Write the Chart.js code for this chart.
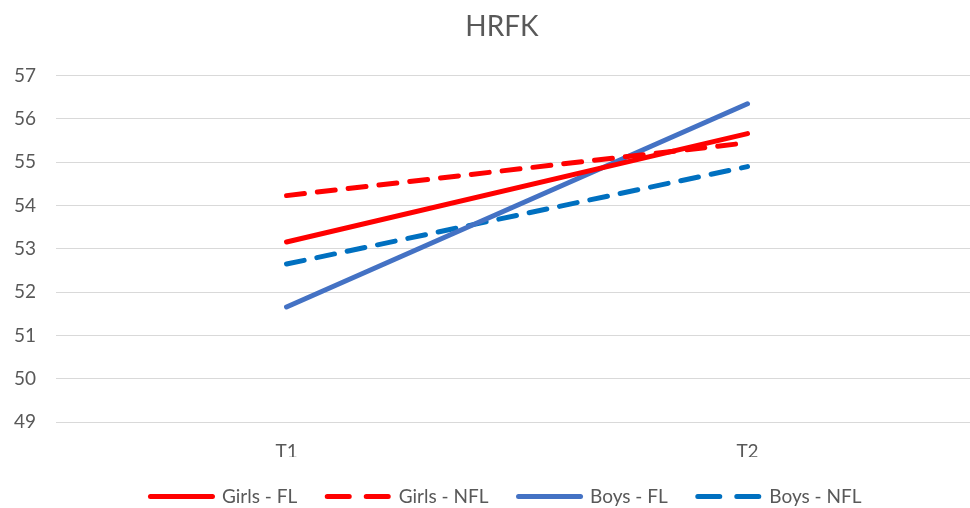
<!DOCTYPE html>
<html><head><meta charset="utf-8">
<script src="https://cdn.jsdelivr.net/npm/chart.js@4/dist/chart.umd.min.js"></script>
<style>html,body{margin:0;padding:0;overflow:hidden;background:#fff;width:970px;height:508px}#wrap{width:985px;height:516px}</style>
</head><body><div id="wrap"><canvas id="c" width="985" height="516"></canvas></div>
<script>
const categories = ["T1", "T2"];
const girlsFL = [53.16, 55.66];
const girlsNFL = [54.23, 55.45];
const boysFL = [51.66, 56.35];
const boysNFL = [52.65, 54.9];
const yTicks = [49, 50, 51, 52, 53, 54, 55, 56, 57];

const font = "Lato, 'Open Sans', sans-serif";
function ds(label, data, color, dash) {
  return {label, data, borderColor: color, backgroundColor: color, borderWidth: 5,
    borderDash: dash, borderCapStyle: 'round', pointRadius: 0, tension: 0, fill: false};
}
const shiftPlugin = {
  id: 'shift',
  afterLayout(chart) {
    if (chart.legend) { chart.legend.left += 40; }
    if (chart.titleBlock) { chart.titleBlock.left += 32; }
  }
};
new Chart(document.getElementById('c'), {
  type: 'line',
  data: {labels: categories, datasets: [
    ds('Girls - FL', girlsFL, '#FF0000', []),
    ds('Girls - NFL', girlsNFL, '#FF0000', [18, 13]),
    ds('Boys - FL', boysFL, '#4472C4', []),
    ds('Boys - NFL', boysNFL, '#0070C0', [18, 13])
  ]},
  plugins: [shiftPlugin],
  options: {
    responsive: false, animation: false,
    layout: {padding: {left: -6, right: 7, top: 0, bottom: 0}},
    plugins: {
      title: {display: true, text: 'HRFK', color: '#595959', font: {family: font, size: 28, weight: 'normal'}, padding: {top: 10, bottom: 32}},
      legend: {position: 'bottom', labels: {usePointStyle: true, pointStyle: 'line', pointStyleWidth: 62, boxHeight: 16,
        color: '#595959', font: {family: font, size: 19}, padding: 30,
        generateLabels: chart => chart.data.datasets.map((d, i) => ({
          text: d.label, fillStyle: d.borderColor, strokeStyle: d.borderColor, lineWidth: 5,
          lineDash: d.borderDash.length ? [22, 17] : [], lineCap: 'round', pointStyle: 'line',
          hidden: false, datasetIndex: i, fontColor: '#595959'}))}},
      tooltip: {enabled: false}
    },
    scales: {
      x: {offset: true, grid: {display: false}, border: {display: false},
        afterFit: s => { s.height -= 16; },
        ticks: {color: '#595959', font: {family: font, size: 19}, padding: 10}},
      y: {min: 49, max: 57, afterBuildTicks: a => { a.ticks = yTicks.map(v => ({value: v})); },
        grid: {color: '#d9d9d9', drawTicks: false}, border: {display: false},
        ticks: {color: '#595959', font: {family: font, size: 19}, padding: 20}}
    }
  }
});
</script></body></html>
